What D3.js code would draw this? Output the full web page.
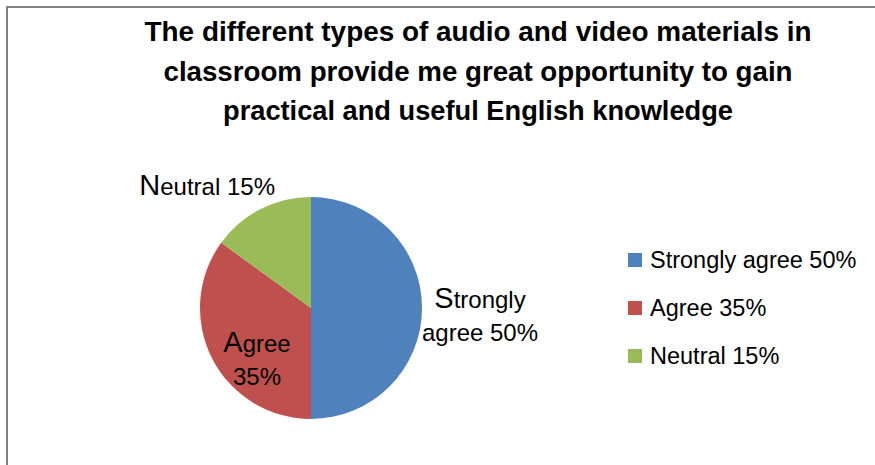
<!DOCTYPE html>
<html>
<head>
<meta charset="utf-8">
<script src="https://cdn.jsdelivr.net/npm/d3@7"></script>
<style>
  body { margin: 0; background: #fff; }
  svg { display: block; }
  text { font-family: "Liberation Sans", Arial, sans-serif; fill: #000; }
</style>
</head>
<body>
<svg id="chart" width="875" height="465"></svg>
<script>
// Data
const categories = ["Strongly agree", "Agree", "Neutral"];
const percents = [50, 35, 15];
const colors = ["#4F81BD", "#C0504D", "#9BBB59"];
const titleLines = [
    "The different types of audio and video materials in",
    "classroom provide me great opportunity to gain",
    "practical and useful English knowledge"
];

const svg = d3.select("#chart"),
    width = +svg.attr("width"),
    height = +svg.attr("height");

// Chart frame (left and top edge only visible)
svg.append("path")
    .attr("d", `M7,${height} V7 H${width}`)
    .attr("fill", "none")
    .attr("stroke", "#808080")
    .attr("stroke-width", 2);

// Title
const titleWidths = [667, 629, 510];
svg.append("g")
    .selectAll("text")
    .data(titleLines)
    .enter()
    .append("text")
    .attr("x", 478)
    .attr("y", (d, i) => 41 + i * 39.5)
    .attr("text-anchor", "middle")
    .attr("font-size", 27.5)
    .attr("font-weight", "bold")
    .attr("textLength", (d, i) => titleWidths[i])
    .attr("lengthAdjust", "spacingAndGlyphs")
    .text(d => d);

// Pie
const cx = 311, cy = 308, radius = 111;
const pie = d3.pie().sort(null).value(d => d.value);
const arc = d3.arc().innerRadius(0).outerRadius(radius);
const slices = pie(categories.map((c, i) => ({ name: c, value: percents[i], color: colors[i] })));

const g = svg.append("g").attr("transform", `translate(${cx},${cy})`);
g.selectAll("path")
    .data(slices)
    .enter()
    .append("path")
    .attr("d", arc)
    .attr("fill", d => d.data.color);

// Data labels (offsets from pie centre, as Excel placed them)
const labelLayout = {
    "Strongly agree": { dx: 169, dy: 0, anchor: "middle", lines: ["Strongly", "agree 50%"] },
    "Agree": { dx: -54, dy: 44, anchor: "middle", lines: ["Agree", "35%"] },
    "Neutral": { dx: -36, dy: -113, anchor: "end", lines: ["Neutral 15%"] }
};

slices.forEach(s => {
    const lay = labelLayout[s.data.name];
    const t = g.append("text")
        .attr("text-anchor", lay.anchor)
        .attr("font-size", 24);
    lay.lines.forEach((line, i) => {
        const ts = t.append("tspan")
            .attr("x", lay.dx)
            .attr("y", lay.dy + i * 33);
        if (i === 0) {
            ts.append("tspan").attr("font-size", 29).text(line[0]);
            ts.append("tspan").text(line.slice(1));
        } else {
            ts.text(line);
        }
    });
});

// Legend
const legend = svg.append("g").attr("transform", "translate(628,253)");
const item = legend.selectAll("g")
    .data(categories)
    .enter()
    .append("g")
    .attr("transform", (d, i) => `translate(0,${i * 48})`);
item.append("rect")
    .attr("width", 14)
    .attr("height", 14)
    .attr("fill", (d, i) => colors[i]);
item.append("text")
    .attr("x", 22)
    .attr("y", 15)
    .attr("font-size", 23.5)
    .text((d, i) => `${d} ${percents[i]}%`);
</script>
</body>
</html>
